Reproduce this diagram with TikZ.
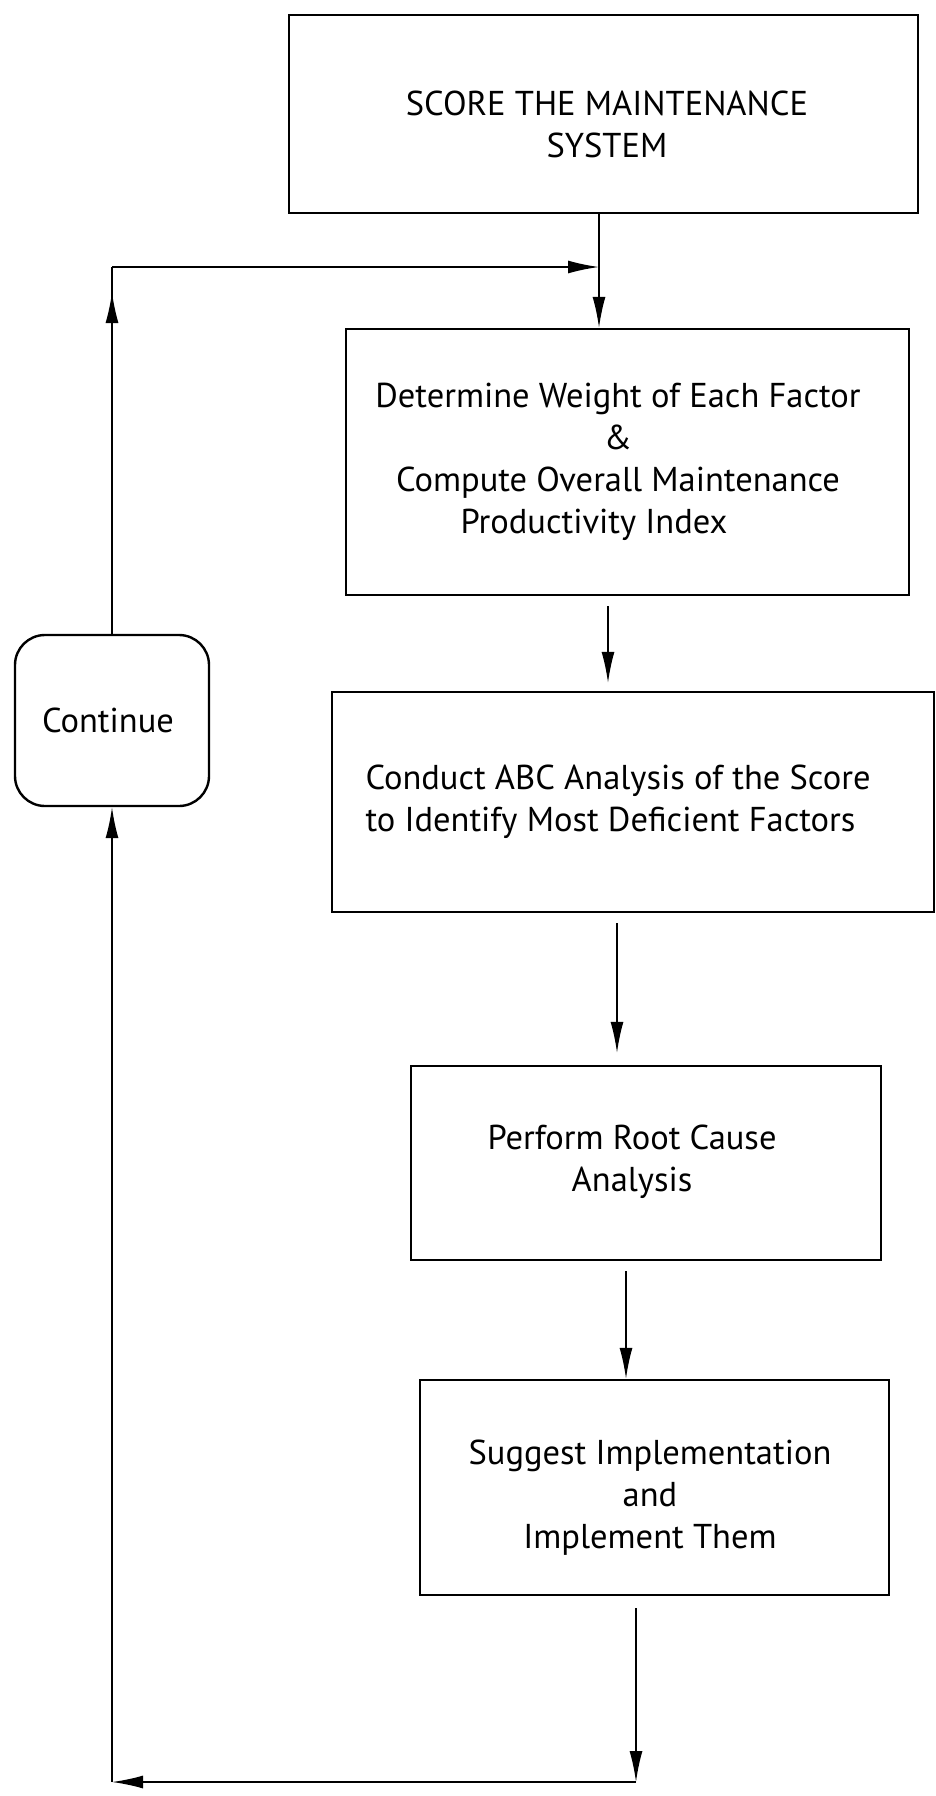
\documentclass[tikz,border=0pt]{standalone}
\usepackage{fontspec}
\setmainfont{PT Sans}
\usetikzlibrary{arrows.meta,calc}
\begin{document}
\begin{tikzpicture}[x=1pt,y=-1pt,
  box/.style={draw, line width=2.4pt, inner sep=0pt},
  txt/.style={align=center, font=\fontsize{34.5}{42}\selectfont, inner sep=0pt},
  conn/.style={line width=1.7pt, -{Latex[length=31pt,width=13pt]}},
  plain/.style={line width=1.7pt},
]
\useasboundingbox (0,0) rectangle (935,1796);
\fill[white] (0,0) rectangle (935,1796);

% boxes (x: left--right, y: top--bottom in pixels)
\node[box, minimum width=629pt, minimum height=198pt] (b1) at (603.5,114) {};
\node[txt] (t1) at (607,124) {SCORE THE MAINTENANCE\\SYSTEM};

\node[box, minimum width=563pt, minimum height=266pt] (b2) at (627.5,462) {};
\node[txt] (t2) at (618,462) {Determine Weight of Each Factor\\\&\\Compute Overall Maintenance\\Productivity Index\hspace*{48pt}};

\node[box, minimum width=602pt, minimum height=220pt] (b3) at (633,802) {};
\node[txt, align=left] (t3) at (618,802) {Conduct ABC Analysis of the Score\\to Identify Most Deficient Factors};

\node[box, minimum width=470pt, minimum height=194pt] (b4) at (646,1163) {};
\node[txt] (t4) at (632,1162) {Perform Root Cause\\Analysis};

\node[box, minimum width=469pt, minimum height=215pt] (b5) at (654.5,1487.5) {};
\node[txt] (t5) at (650,1498) {Suggest Implementation\\and\\Implement Them};

\node[box, rounded corners=30pt, minimum width=194pt, minimum height=171pt] (cont) at (112,720.5) {};
\node[txt] (tc) at (108,720) {Continue};

% junctions
\coordinate (j1) at (599,267);
\coordinate (fbc) at (cont.north |- j1);
\coordinate (j2) at (636,1782);
\coordinate (j3) at (cont.south |- j2);

% main flow
\draw[conn] (b1.south -| j1) -- (b2.north -| j1);
\draw[conn] ([yshift=-10pt]b2.south -| 608,0) -- ([yshift=8pt]b3.north -| 608,0);
\draw[conn] ([yshift=-10pt]b3.south -| 617,0) -- ([yshift=12pt]b4.north -| 617,0);
\draw[conn] ([yshift=-10pt]b4.south -| 626,0) -- (b5.north -| 626,0);
\draw[conn] ([yshift=-12pt]b5.south -| j2) -- (j2);

% loop back
\draw[conn] (j2) -- (j3);
\draw[conn] (j3) -- (cont.south);
\draw[plain] (cont.north) -- (fbc);
\draw[conn] (cont.north) -- ($(fbc)+(0,25)$);
\draw[conn] (fbc) -- (j1);
\end{tikzpicture}
\end{document}
